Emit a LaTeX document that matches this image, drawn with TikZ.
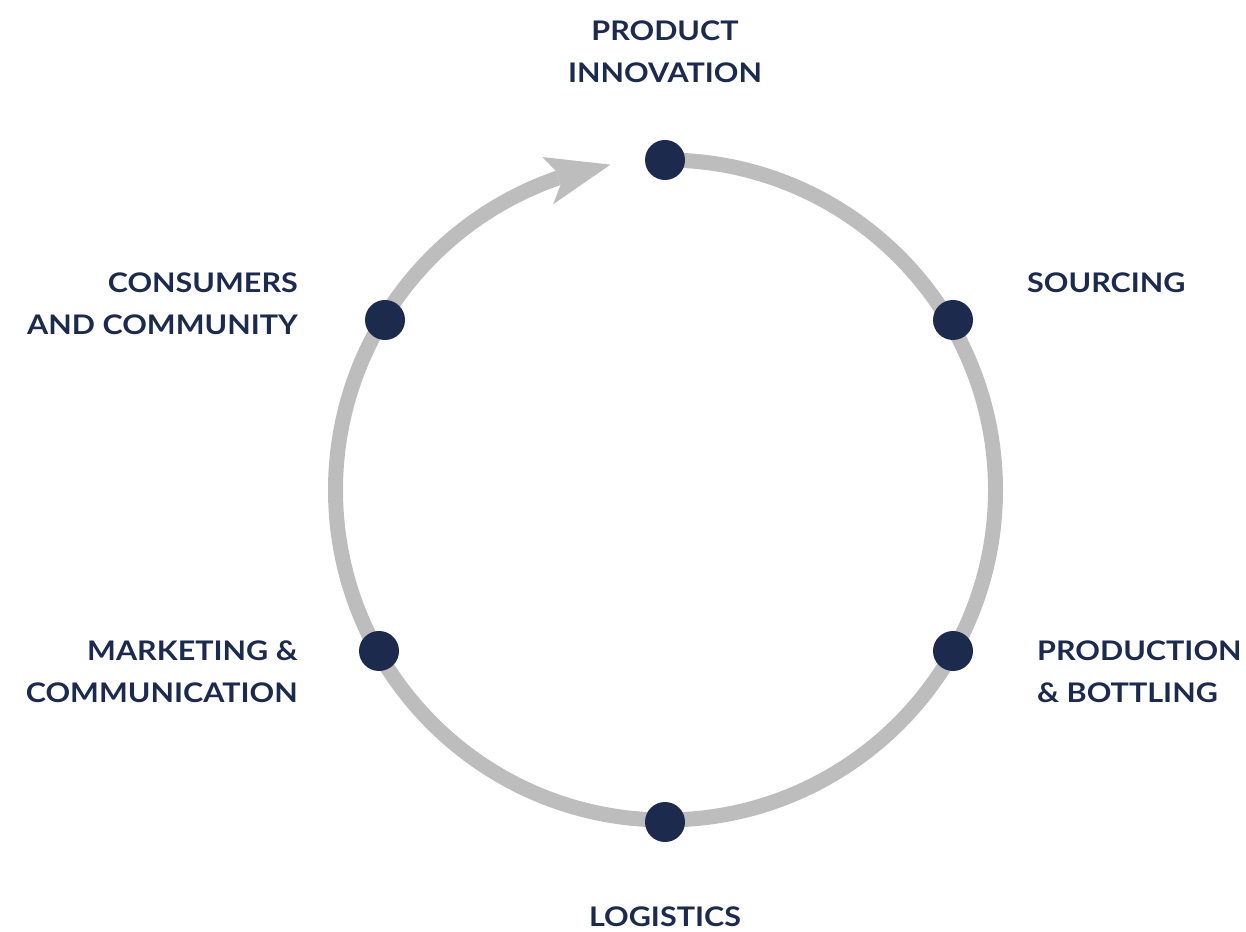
\documentclass[tikz,border=0pt]{standalone}
\usepackage{fontspec}
\setmainfont{Lato}[FakeStretch=1.13]
\usetikzlibrary{calc}
\definecolor{navy}{HTML}{1C2A4E}
\definecolor{ringgray}{HTML}{BDBDBD}
\tikzset{
  ring/.style={draw=ringgray, line width=15pt},
  dot/.style={circle, fill=navy, minimum size=40pt, inner sep=0pt},
  lbl/.style={text=navy, font=\fontsize{27}{42}\selectfont\bfseries, inner sep=0pt}
}
\begin{document}
\begin{tikzpicture}[x=1pt,y=1pt]
\useasboundingbox (0,0) rectangle (1246,931);
\coordinate (C) at (665.5,441);
% ring
\draw[ring] ($(C)+(90:330)$) arc[start angle=90, end angle=-251, radius=330];
% arrowhead
\fill[ringgray] ($(C)+(99.6:330)$) -- ($(C)+(110.3:355)$) -- ($(C)+(109:337.5)$)
  -- ($(C)+(109:322.5)$) -- ($(C)+(111.5:307)$) -- cycle;
% dots
\node[dot] (pi) at (665,771) {};
\node[dot] (so) at (953,611) {};
\node[dot] (pb) at (953,280) {};
\node[dot] (lo) at (665,109) {};
\node[dot] (mc) at (379,280) {};
\node[dot] (cc) at (385,611) {};
% labels
\node[lbl, align=center, anchor=north] (tpi) at (665,910) {PRODUCT\\INNOVATION};
\node[lbl, anchor=north west] (tso) at (1027,658) {SOURCING};
\node[lbl, align=left, anchor=north west] (tpb) at (1037,290) {PRODUCTION\\\&~BOTTLING};
\node[lbl, anchor=north] (tlo) at (665,24) {LOGISTICS};
\node[lbl, align=right, anchor=north east] (tmc) at (298,290) {MARKETING \&\\COMMUNICATION};
\node[lbl, align=right, anchor=north east] (tcc) at (298,658) {CONSUMERS\\AND COMMUNITY};
\end{tikzpicture}
\end{document}
